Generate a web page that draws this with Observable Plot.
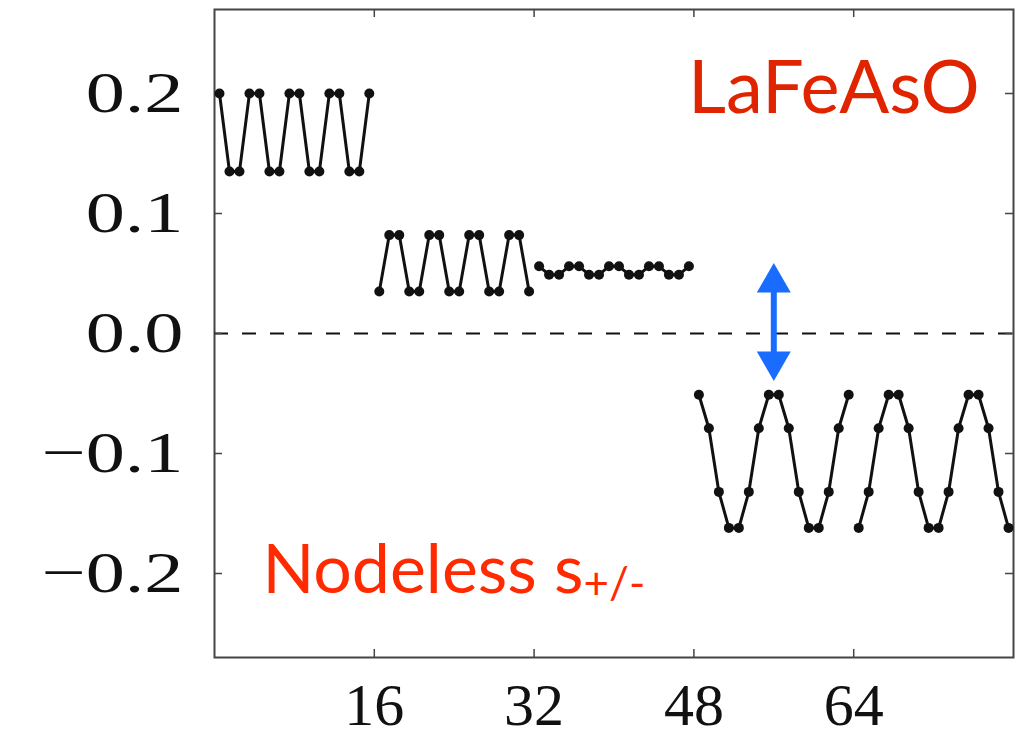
<!DOCTYPE html>
<html>
<head>
<meta charset="utf-8">
<script src="https://cdn.jsdelivr.net/npm/d3@7"></script>
<script src="https://cdn.jsdelivr.net/npm/@observablehq/plot@0.6"></script>
<style>
  html, body { margin: 0; padding: 0; background: #fff; }
  #chart { width: 1017px; height: 739px; }
</style>
</head>
<body>
<div id="chart"></div>
<script>
// Order parameter on each site, five chains of 16 sites each
const chainStarts = [0, 16, 32, 48, 64];
const chain1 = [0.200, 0.135, 0.135, 0.200, 0.200, 0.135, 0.135, 0.200, 0.200, 0.135, 0.135, 0.200, 0.200, 0.135, 0.135, 0.200];
const chain2 = [0.035, 0.082, 0.082, 0.035, 0.035, 0.082, 0.082, 0.035, 0.035, 0.082, 0.082, 0.035, 0.035, 0.082, 0.082, 0.035];
const chain3 = [0.056, 0.049, 0.049, 0.056, 0.056, 0.049, 0.049, 0.056, 0.056, 0.049, 0.049, 0.056, 0.056, 0.049, 0.049, 0.056];
const chain4 = [-0.051, -0.079, -0.132, -0.162, -0.162, -0.132, -0.079, -0.051, -0.051, -0.079, -0.132, -0.162, -0.162, -0.132, -0.079, -0.051];
const chain5 = [-0.162, -0.132, -0.079, -0.051, -0.051, -0.079, -0.132, -0.162, -0.162, -0.132, -0.079, -0.051, -0.051, -0.079, -0.132, -0.162];
const chains = [chain1, chain2, chain3, chain4, chain5];

const xTicks = [16, 32, 48, 64];
const yTicks = [-0.2, -0.1, 0.0, 0.1, 0.2];

// Gap marker: arrow between zero and the top of the negative branch
const gapArrow = [{x: 56, top: 0.0587, bottom: -0.0395}];

const rows = chains.flatMap((vals, c) =>
  vals.map((v, i) => ({site: chainStarts[c] + i + 0.5, value: v, chain: c}))
);

const xDomain = [0, 80];
const yDomain = [-0.27, 0.27];
const tickLenX = 0.8;    // inward tick length in x units
const tickLenY = 0.0067; // inward tick length in y units
const tickColor = "#444";

const yFmt = d => d === 0 ? "0.0" : d3.format(".1f")(d);

const plot = Plot.plot({
  width: 1017,
  height: 739,
  marginLeft: 214,
  marginRight: 4,
  marginTop: 9,
  marginBottom: 82,
  x: {domain: xDomain},
  y: {domain: yDomain},
  style: {fontFamily: "'Liberation Serif', serif", color: "#111", background: "#fff"},
  marks: [
    Plot.frame({stroke: "#444", strokeWidth: 2}),
    // zero reference
    Plot.ruleY([0], {stroke: "#111", strokeWidth: 2, strokeDasharray: "14,14"}),
    // inward ticks on all four sides
    Plot.ruleY(yTicks, {y: d => d, x1: xDomain[0], x2: xDomain[0] + tickLenX, stroke: tickColor, strokeWidth: 1.5}),
    Plot.ruleY(yTicks, {y: d => d, x1: xDomain[1] - tickLenX, x2: xDomain[1], stroke: tickColor, strokeWidth: 1.5}),
    Plot.ruleX(xTicks, {x: d => d, y1: yDomain[0], y2: yDomain[0] + tickLenY, stroke: tickColor, strokeWidth: 1.5}),
    Plot.ruleX(xTicks, {x: d => d, y1: yDomain[1] - tickLenY, y2: yDomain[1], stroke: tickColor, strokeWidth: 1.5}),
    Plot.axisY({ticks: yTicks, tickSize: 0, tickPadding: 31, fontSize: 58, tickFormat: yFmt, label: null}),
    Plot.axisX({ticks: xTicks, tickSize: 0, tickPadding: 25, fontSize: 60, label: null}),
    // site values
    Plot.line(rows, {x: "site", y: "value", z: "chain", stroke: "#111", strokeWidth: 3}),
    Plot.dot(rows, {x: "site", y: "value", r: 5, fill: "#111"}),
    // gap arrow
    Plot.ruleX(gapArrow, {x: "x", y1: "top", y2: "bottom", stroke: "#1a6cff", strokeWidth: 6, insetTop: 22, insetBottom: 22}),
    Plot.dot(gapArrow, {x: "x", y: "top", symbol: "triangle", r: 12.6, fill: "#1a6cff", stroke: "none", dy: 19.6}),
    Plot.dot(gapArrow, {x: "x", y: "bottom", symbol: "triangle", r: 12.6, fill: "#1a6cff", stroke: "none", dy: -19.6, rotate: 180}),
    // labels
    Plot.text(["LaFeAsO"], {x: 47.4, y: 0.1837, text: d => d, textAnchor: "start", lineAnchor: "bottom",
      fontSize: 74, fontFamily: "Lato, 'Open Sans', sans-serif", fill: "#e12400"}),
    Plot.text(["Nodeless s"], {x: 4.8, y: -0.2165, text: d => d, textAnchor: "start", lineAnchor: "bottom",
      fontSize: 68, fontFamily: "Lato, 'Open Sans', sans-serif", fill: "#ff2a00"})
  ]
});

// stretch the y tick labels horizontally, typeset-style
d3.select(plot).selectAll("g[aria-label='y-axis tick label'] text").each(function() {
  const t = d3.select(this);
  const tr = t.attr("transform") || "";
  t.attr("transform", tr + " scale(1.35,1)");
});

// subscript on the pairing label
d3.select(plot).selectAll("text").filter(function() { return this.textContent === "Nodeless s"; })
  .each(function() {
    d3.select(this).append("tspan").attr("font-size", 44).attr("dy", 6).text("+/-");
  });

document.getElementById("chart").appendChild(plot);
</script>
</body>
</html>
